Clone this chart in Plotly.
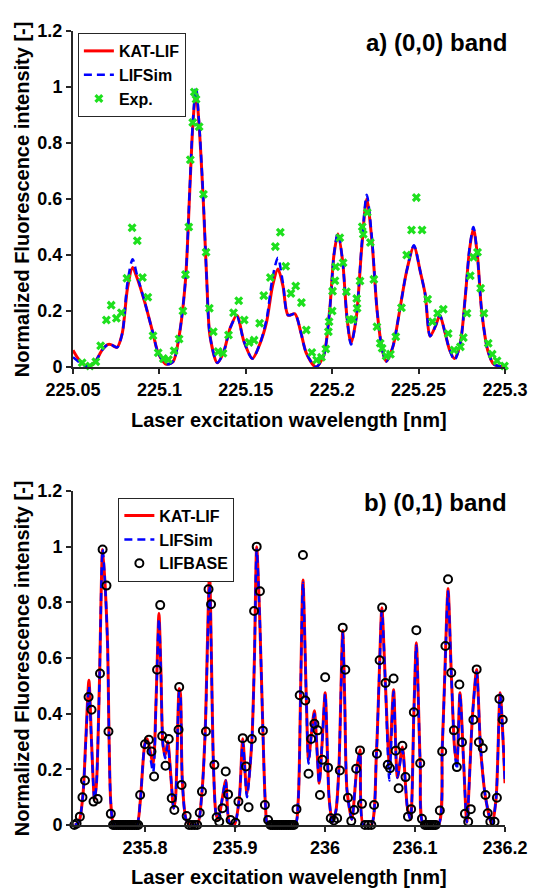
import plotly.graph_objects as go

# ---------------- panel a) (0,0) band ----------------
a_wl = [225.0500, 225.0530, 225.0565, 225.0595, 225.0630, 225.0670, 225.0700, 225.0720,
        225.0755, 225.0785, 225.0815, 225.0845, 225.0870, 225.0916, 225.0963, 225.0993,
        225.1040, 225.1080, 225.1114, 225.1151, 225.1175, 225.1195, 225.1212, 225.1230,
        225.1255, 225.1274, 225.1293, 225.1335, 225.1370, 225.1410, 225.1448, 225.1490,
        225.1538, 225.1580, 225.1620, 225.1655, 225.1686, 225.1715, 225.1745, 225.1784,
        225.1820, 225.1850, 225.1906, 225.1950, 225.1985, 225.2010, 225.2033, 225.2060,
        225.2085, 225.2109, 225.2140, 225.2170, 225.2200, 225.2230, 225.2260, 225.2290,
        225.2313, 225.2350, 225.2390, 225.2430, 225.2473, 225.2510, 225.2538, 225.2567,
        225.2600, 225.2623, 225.2650, 225.2680, 225.2708, 225.2740, 225.2770, 225.2795,
        225.2817, 225.2840, 225.2865, 225.2900, 225.2935, 225.3000]
a_kat = [0.060, 0.030, 0.008, 0.004, 0.020, 0.062, 0.080, 0.080,
         0.070, 0.120, 0.280, 0.355, 0.320, 0.230, 0.120, 0.050,
         0.010, 0.020, 0.110, 0.310, 0.620, 0.880, 0.985, 0.860,
         0.580, 0.310, 0.110, 0.015, 0.050, 0.140, 0.185, 0.090,
         0.030, 0.080, 0.160, 0.290, 0.350, 0.290, 0.185, 0.190,
         0.120, 0.050, 0.000, 0.040, 0.200, 0.400, 0.475, 0.380,
         0.180, 0.085, 0.180, 0.420, 0.600, 0.450, 0.200, 0.060,
         0.020, 0.070, 0.200, 0.340, 0.430, 0.340, 0.260, 0.110,
         0.150, 0.185, 0.130, 0.060, 0.030, 0.080, 0.250, 0.420,
         0.495, 0.400, 0.200, 0.060, 0.010, 0.000]
a_lifsim = [0.035, 0.020, 0.006, 0.004, 0.020, 0.062, 0.080, 0.080,
            0.070, 0.120, 0.300, 0.385, 0.330, 0.230, 0.120, 0.050,
            0.010, 0.020, 0.110, 0.310, 0.630, 0.890, 1.000, 0.870,
            0.590, 0.310, 0.110, 0.015, 0.050, 0.140, 0.180, 0.090,
            0.030, 0.080, 0.170, 0.320, 0.390, 0.300, 0.185, 0.190,
            0.120, 0.050, 0.000, 0.040, 0.200, 0.400, 0.480, 0.380,
            0.180, 0.080, 0.180, 0.430, 0.615, 0.460, 0.200, 0.060,
            0.020, 0.070, 0.200, 0.340, 0.435, 0.340, 0.260, 0.110,
            0.150, 0.185, 0.130, 0.060, 0.025, 0.080, 0.250, 0.425,
            0.500, 0.400, 0.200, 0.060, 0.010, 0.000]
a_exp_wl = [225.0553, 225.0598, 225.0632, 225.0660, 225.0693, 225.0721, 225.0751, 225.0780,
            225.0812, 225.0842, 225.0872, 225.0902, 225.0933, 225.0963, 225.0993, 225.1023,
            225.1052, 225.1085, 225.1114, 225.1136, 225.1151, 225.1170, 225.1179, 225.1193,
            225.1202, 225.1212, 225.1230, 225.1255, 225.1270, 225.1289, 225.1312, 225.1340,
            225.1368, 225.1400, 225.1429, 225.1459, 225.1491, 225.1519, 225.1548, 225.1580,
            225.1604, 225.1642, 225.1671, 225.1700, 225.1731, 225.1761, 225.1789, 225.1822,
            225.1850, 225.1882, 225.1910, 225.1938, 225.1963, 225.1978, 225.1982, 225.2000,
            225.2002, 225.2016, 225.2020, 225.2044, 225.2063, 225.2082, 225.2101, 225.2120,
            225.2142, 225.2144, 225.2161, 225.2174, 225.2180, 225.2203, 225.2221, 225.2241,
            225.2259, 225.2278, 225.2289, 225.2312, 225.2337, 225.2368, 225.2401, 225.2431,
            225.2459, 225.2487, 225.2520, 225.2552, 225.2580, 225.2610, 225.2643, 225.2671,
            225.2705, 225.2742, 225.2759, 225.2780, 225.2799, 225.2818, 225.2841, 225.2859,
            225.2878, 225.2903, 225.2926, 225.2954, 225.2997]
a_exp = [0.015, 0.004, 0.019, 0.076, 0.168, 0.221, 0.174, 0.194,
         0.317, 0.497, 0.451, 0.320, 0.249, 0.112, 0.051, 0.030,
         0.027, 0.058, 0.100, 0.200, 0.330, 0.500, 0.740, 0.873,
         0.982, 0.956, 0.858, 0.617, 0.410, 0.210, 0.126, 0.055,
         0.049, 0.114, 0.194, 0.237, 0.168, 0.088, 0.096, 0.156,
         0.255, 0.320, 0.430, 0.481, 0.360, 0.263, 0.289, 0.230,
         0.132, 0.052, 0.025, 0.035, 0.064, 0.126, 0.162, 0.200,
         0.271, 0.308, 0.358, 0.462, 0.372, 0.269, 0.170, 0.170,
         0.245, 0.210, 0.307, 0.501, 0.474, 0.552, 0.445, 0.313,
         0.144, 0.085, 0.067, 0.039, 0.046, 0.108, 0.212, 0.400,
         0.489, 0.605, 0.489, 0.242, 0.162, 0.192, 0.206, 0.120,
         0.061, 0.072, 0.105, 0.192, 0.326, 0.392, 0.410, 0.281,
         0.192, 0.085, 0.046, 0.022, 0.004]

# ---------------- panel b) (0,1) band ----------------
b_wl = [235.7221, 235.7265, 235.7311, 235.7341, 235.7377, 235.7406, 235.7439, 235.7461,
        235.7493, 235.7529, 235.7559, 235.7584, 235.7620, 235.7656, 235.7764, 235.7906,
        235.7946, 235.8000, 235.8025, 235.8090, 235.8123, 235.8155, 235.8177, 235.8199,
        235.8224, 235.8253, 235.8286, 235.8318, 235.8340, 235.8380, 235.8394, 235.8416,
        235.8470, 235.8579, 235.8633, 235.8669, 235.8717, 235.8760, 235.8789, 235.8815,
        235.8861, 235.8897, 235.8937, 235.8992, 235.9049, 235.9086, 235.9133, 235.9187,
        235.9216, 235.9241, 235.9274, 235.9310, 235.9339, 235.9368, 235.9665, 235.9701,
        235.9730, 235.9755, 235.9792, 235.9817, 235.9850, 235.9882, 235.9936, 235.9969,
        236.0002, 236.0045, 236.0081, 236.0121, 236.0154, 236.0197, 236.0219, 236.0244,
        236.0298, 236.0352, 236.0389, 236.0425, 236.0515, 236.0570, 236.0599, 236.0632,
        236.0672, 236.0715, 236.0762, 236.0805, 236.0860, 236.0914, 236.0950, 236.0987,
        236.1015, 236.1058, 236.1095, 236.1258, 236.1302, 236.1332, 236.1367, 236.1403,
        236.1439, 236.1465, 236.1500, 236.1541, 236.1576, 236.1638, 236.1685, 236.1728,
        236.1783, 236.1856, 236.1902, 236.1946, 236.2000]
b_kat = [0.000, 0.010, 0.110, 0.300, 0.520, 0.300, 0.090, 0.150,
         0.500, 0.990, 0.850, 0.650, 0.080, 0.000, 0.000, 0.000,
         0.080, 0.295, 0.310, 0.220, 0.450, 0.760, 0.550, 0.290,
         0.250, 0.300, 0.180, 0.060, 0.100, 0.490, 0.470, 0.150,
         0.010, 0.000, 0.120, 0.340, 0.900, 0.220, 0.040, 0.020,
         0.100, 0.160, 0.010, 0.000, 0.100, 0.310, 0.110, 0.300,
         0.600, 1.000, 0.750, 0.340, 0.070, 0.000, 0.000, 0.080,
         0.500, 0.880, 0.460, 0.234, 0.330, 0.410, 0.150, 0.300,
         0.475, 0.100, 0.010, 0.050, 0.200, 0.700, 0.450, 0.126,
         0.020, 0.200, 0.270, 0.000, 0.000, 0.246, 0.500, 0.780,
         0.500, 0.220, 0.486, 0.170, 0.280, 0.066, 0.020, 0.400,
         0.655, 0.220, 0.000, 0.000, 0.270, 0.550, 0.850, 0.547,
         0.280, 0.220, 0.475, 0.220, 0.010, 0.390, 0.559, 0.280,
         0.100, 0.000, 0.100, 0.475, 0.150]
b_lifsim = [0.000, 0.010, 0.110, 0.290, 0.500, 0.290, 0.090, 0.150,
            0.500, 0.990, 0.850, 0.650, 0.080, 0.000, 0.000, 0.000,
            0.080, 0.290, 0.300, 0.190, 0.440, 0.740, 0.540, 0.290,
            0.240, 0.290, 0.180, 0.060, 0.100, 0.480, 0.460, 0.150,
            0.010, 0.000, 0.120, 0.330, 0.860, 0.220, 0.040, 0.020,
            0.100, 0.160, 0.010, 0.000, 0.100, 0.300, 0.100, 0.300,
            0.600, 0.990, 0.750, 0.340, 0.070, 0.000, 0.000, 0.080,
            0.500, 0.870, 0.460, 0.220, 0.330, 0.400, 0.150, 0.300,
            0.470, 0.100, 0.010, 0.050, 0.200, 0.690, 0.450, 0.126,
            0.020, 0.200, 0.260, 0.000, 0.000, 0.246, 0.500, 0.770,
            0.500, 0.160, 0.480, 0.170, 0.270, 0.066, 0.020, 0.400,
            0.645, 0.220, 0.000, 0.000, 0.270, 0.540, 0.840, 0.547,
            0.280, 0.200, 0.470, 0.220, 0.010, 0.390, 0.550, 0.280,
            0.100, 0.000, 0.100, 0.470, 0.150]
b_base_wl = [235.7215, 235.7240, 235.7276, 235.7305, 235.7333, 235.7373, 235.7406, 235.7428,
             235.7474, 235.7500, 235.7529, 235.7572, 235.7594, 235.7620,
             235.7645, 235.7665, 235.7685, 235.7705, 235.7725, 235.7745, 235.7765, 235.7785,
             235.7805, 235.7825, 235.7845, 235.7865, 235.7885, 235.7905, 235.7925,
             235.7946, 235.8000, 235.8043, 235.8072, 235.8101, 235.8134, 235.8169, 235.8191,
             235.8228, 235.8264, 235.8297, 235.8326, 235.8373, 235.8380, 235.8406, 235.8463,
             235.8490, 235.8520, 235.8550, 235.8580,
             235.8608, 235.8633, 235.8677, 235.8706, 235.8734, 235.8771, 235.8796, 235.8825,
             235.8861, 235.8897, 235.8923, 235.8951, 235.9006, 235.9038, 235.9086, 235.9122,
             235.9151, 235.9187, 235.9212, 235.9241, 235.9277, 235.9310, 235.9332, 235.9368,
             235.9395, 235.9415, 235.9435, 235.9455, 235.9475, 235.9495, 235.9515, 235.9535,
             235.9555, 235.9575, 235.9595, 235.9615, 235.9635, 235.9655,
             235.9683, 235.9719, 235.9755, 235.9781, 235.9817, 235.9846, 235.9882, 235.9918,
             235.9944, 235.9972, 236.0002, 236.0034, 236.0064, 236.0099, 236.0135, 236.0165,
             236.0197, 236.0226, 236.0255, 236.0292, 236.0324, 236.0346, 236.0389, 236.0411,
             236.0444, 236.0480, 236.0515, 236.0545, 236.0577, 236.0607, 236.0635, 236.0672,
             236.0697, 236.0722, 236.0762, 236.0785, 236.0818, 236.0860, 236.0895, 236.0922,
             236.0957, 236.0987, 236.1015, 236.1058, 236.1077,
             236.1110, 236.1130, 236.1150, 236.1170, 236.1190, 236.1210, 236.1230,
             236.1276, 236.1302, 236.1338, 236.1367, 236.1403, 236.1432, 236.1465, 236.1493,
             236.1522, 236.1555, 236.1591, 236.1620, 236.1649, 236.1685, 236.1710, 236.1753,
             236.1783, 236.1808, 236.1837, 236.1884, 236.1910, 236.1938, 236.1975]
b_base = [0.000, 0.005, 0.030, 0.100, 0.160, 0.460, 0.414, 0.084,
          0.093, 0.544, 0.990, 0.860, 0.336, 0.040,
          0.000, 0.000, 0.000, 0.000, 0.000, 0.000, 0.000, 0.000,
          0.000, 0.000, 0.000, 0.000, 0.000, 0.000, 0.000,
          0.108, 0.290, 0.306, 0.264, 0.174, 0.558, 0.790, 0.320,
          0.213, 0.309, 0.096, 0.054, 0.342, 0.496, 0.144, 0.032,
          0.000, 0.000, 0.000, 0.000,
          0.044, 0.120, 0.336, 0.847, 0.793, 0.216, 0.028, 0.012,
          0.060, 0.192, 0.110, 0.018, 0.008, 0.084, 0.312, 0.210,
          0.064, 0.309, 0.769, 1.000, 0.840, 0.339, 0.072, 0.018,
          0.000, 0.000, 0.000, 0.000, 0.000, 0.000, 0.000, 0.000,
          0.000, 0.000, 0.000, 0.000, 0.000, 0.000,
          0.057, 0.466, 0.970, 0.447, 0.184, 0.309, 0.364, 0.340,
          0.108, 0.234, 0.531, 0.206, 0.024, 0.016, 0.024, 0.196,
          0.709, 0.558, 0.098, 0.014, 0.054, 0.202, 0.268, 0.076,
          0.000, 0.000, 0.000, 0.072, 0.256, 0.592, 0.781, 0.510,
          0.216, 0.204, 0.526, 0.267, 0.132, 0.285, 0.172, 0.030,
          0.057, 0.405, 0.700, 0.222, 0.022,
          0.000, 0.000, 0.000, 0.000, 0.000, 0.000, 0.000,
          0.052, 0.264, 0.643, 0.883, 0.547, 0.340, 0.208, 0.505,
          0.297, 0.040, 0.012, 0.057, 0.378, 0.559, 0.297, 0.276,
          0.108, 0.042, 0.012, 0.012, 0.098, 0.453, 0.378]

y_ticks = [0, 0.2, 0.4, 0.6, 0.8, 1.0, 1.2]
y_ticktext = ["0", "0.2", "0.4", "0.6", "0.8", "1", "1.2"]
a_xticks = [225.05, 225.1, 225.15, 225.2, 225.25, 225.3]
a_xticktext = ["225.05", "225.1", "225.15", "225.2", "225.25", "225.3"]
b_xticks = [235.8, 235.9, 236.0, 236.1, 236.2]
b_xticktext = ["235.8", "235.9", "236", "236.1", "236.2"]

FONT = "Liberation Sans, Arial, Helvetica, sans-serif"
AX = "#262626"
RED = "#ff0000"
BLUE = "#0000ff"
GREEN = "#1ee01e"

fig = go.Figure()

# panel a
fig.add_trace(go.Scatter(x=a_wl, y=a_kat, mode="lines", name="KAT-LIF",
                         line=dict(color=RED, width=3, shape="spline", smoothing=0.8),
                         xaxis="x", yaxis="y", legend="legend"))
fig.add_trace(go.Scatter(x=a_wl, y=a_lifsim, mode="lines", name="LIFSim",
                         line=dict(color=BLUE, width=2.5, dash="8px,5px", shape="spline", smoothing=0.8),
                         xaxis="x", yaxis="y", legend="legend"))
fig.add_trace(go.Scatter(x=a_exp_wl, y=a_exp, mode="markers", name="Exp.",
                         marker=dict(symbol="x", size=8, color=GREEN, line=dict(width=0)),
                         cliponaxis=False, xaxis="x", yaxis="y", legend="legend"))

# panel b
fig.add_trace(go.Scatter(x=b_wl, y=b_kat, mode="lines", name="KAT-LIF",
                         line=dict(color=RED, width=3, shape="spline", smoothing=0.7),
                         xaxis="x2", yaxis="y2", legend="legend2"))
fig.add_trace(go.Scatter(x=b_wl, y=b_lifsim, mode="lines", name="LIFSim",
                         line=dict(color=BLUE, width=2.5, dash="8px,5px", shape="spline", smoothing=0.7),
                         xaxis="x2", yaxis="y2", legend="legend2"))
fig.add_trace(go.Scatter(x=b_base_wl, y=b_base, mode="markers", name="LIFBASE",
                         marker=dict(symbol="circle-open", size=8, color="black", line=dict(width=2, color="black")),
                         cliponaxis=False, xaxis="x2", yaxis="y2", legend="legend2"))

tickfont = dict(family=FONT, size=18, color="black", weight="bold")
axis_common = dict(showline=True, linecolor=AX, linewidth=2, ticks="outside", ticklen=5,
                   tickwidth=2, tickcolor=AX, showgrid=False, zeroline=False, tickfont=tickfont)

legfont = dict(family=FONT, size=16, color="black", weight="bold")

fig.update_layout(
    width=540, height=889,
    margin=dict(l=73, r=25, t=31, b=64),
    paper_bgcolor="white", plot_bgcolor="white",
    showlegend=True,
    xaxis=dict(domain=[0, 1], range=[225.05, 225.3], tickvals=a_xticks, ticktext=a_xticktext,
               anchor="y", **axis_common),
    yaxis=dict(domain=[0.5768, 1.0], range=[0, 1.2], tickvals=y_ticks, ticktext=y_ticktext,
               anchor="x", **axis_common),
    xaxis2=dict(domain=[0, 1], range=[235.72, 236.2], tickvals=b_xticks, ticktext=b_xticktext,
                anchor="y2", **axis_common),
    yaxis2=dict(domain=[0, 0.4207], range=[0, 1.2], tickvals=y_ticks, ticktext=y_ticktext,
                anchor="x2", **axis_common),
    legend=dict(x=0.0113, y=0.9975, xanchor="left", yanchor="top", bgcolor="white",
                bordercolor="#262626", borderwidth=1, font=legfont, tracegroupgap=0,
                itemwidth=30),
    legend2=dict(x=0.105, y=0.4122, xanchor="left", yanchor="top", bgcolor="white",
                 bordercolor="#262626", borderwidth=1, font=legfont, tracegroupgap=0,
                 itemwidth=30),
)

labfont = dict(family=FONT, size=20, color="black", weight="bold")
titfont = dict(family=FONT, size=24, color="black", weight="bold")
ann = [
    dict(text="a) (0,0) band", x=1.01, y=0.9849, xanchor="right", yanchor="middle", font=titfont),
    dict(text="b) (0,1) band", x=1.01, y=0.4068, xanchor="right", yanchor="middle", font=titfont),
    dict(text="Laser excitation wavelength [nm]", x=0.5, y=0.51, xanchor="center", yanchor="middle", font=labfont),
    dict(text="Laser excitation wavelength [nm]", x=0.5, y=-0.0655, xanchor="center", yanchor="middle", font=labfont),
    dict(text="Normalized Fluorescence intensity [-]", x=-0.1176, y=0.7884, xanchor="center", yanchor="middle",
         textangle=-90, font=labfont),
    dict(text="Normalized Fluorescence intensity [-]", x=-0.1176, y=0.2104, xanchor="center", yanchor="middle",
         textangle=-90, font=labfont),
]
for a in ann:
    a.update(xref="paper", yref="paper", showarrow=False)
fig.update_layout(annotations=ann)

fig.write_html("out.html")
